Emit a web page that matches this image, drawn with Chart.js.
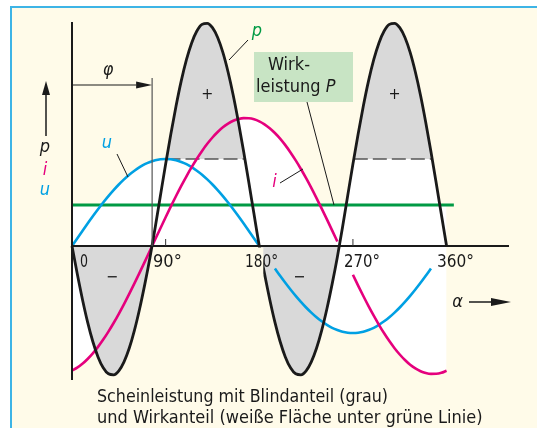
<!DOCTYPE html>
<html lang="de">
<head>
<meta charset="utf-8">
<title>Scheinleistung, Blindanteil und Wirkanteil</title>
<script src="https://cdn.jsdelivr.net/npm/chart.js@4.4.1/dist/chart.umd.min.js"></script>
<style>
  html, body { margin: 0; padding: 0; background: #fff; }
  canvas { display: block; }
</style>
</head>
<body>
<canvas id="powerChart" width="537" height="428"></canvas>
<script>
// Winkel alpha in Grad
const angles = [
    0, 5, 10, 15, 20, 25, 30, 35, 40, 45, 50, 55, 60, 65, 70, 75, 80, 85, 90,
    95, 100, 105, 110, 115, 120, 125, 130, 135, 140, 145, 150, 155, 160, 165, 170, 175, 180,
    185, 190, 195, 200, 205, 210, 215, 220, 225, 230, 235, 240, 245, 250, 255, 260, 265, 270,
    275, 280, 285, 290, 295, 300, 305, 310, 315, 320, 325, 330, 335, 340, 345, 350, 355, 360
];

// Spannung u
const uValues = [
    0, 7.6, 15.1, 22.5, 29.8, 36.8, 43.5, 49.9, 55.9, 61.5, 66.6, 71.3, 75.3, 78.8, 81.8, 84.0, 85.7, 86.7, 87,
    86.7, 85.7, 84.0, 81.8, 78.8, 75.3, 71.3, 66.6, 61.5, 55.9, 49.9, 43.5, 36.8, 29.8, 22.5, 15.1, 7.6, 0,
    -7.6, -15.1, -22.5, -29.8, -36.8, -43.5, -49.9, -55.9, -61.5, -66.6, -71.3, -75.3, -78.8, -81.8, -84.0, -85.7, -86.7, -87,
    -86.7, -85.7, -84.0, -81.8, -78.8, -75.3, -71.3, -66.6, -61.5, -55.9, -49.9, -43.5, -36.8, -29.8, -22.5, -15.1, -7.6, 0
];

// Strom i (nacheilend um phi)
const iValues = [
    -124.7, -121.7, -117.8, -113.0, -107.4, -100.9, -93.6, -85.6, -77.0, -67.8, -58.1, -47.9, -37.4, -26.6, -15.6, -4.5, 6.7, 17.8, 28.8,
    39.6, 50.0, 60.1, 69.7, 78.8, 87.3, 95.1, 102.2, 108.5, 114.0, 118.7, 122.4, 125.2, 127.0, 127.9, 127.8, 126.8, 124.7,
    121.7, 117.8, 113.0, 107.4, 100.9, 93.6, 85.6, 77.0, 67.8, 58.1, 47.9, 37.4, 26.6, 15.6, 4.5, -6.7, -17.8, -28.8,
    -39.6, -50.0, -60.1, -69.7, -78.8, -87.3, -95.1, -102.2, -108.5, -114.0, -118.7, -122.4, -125.2, -127.0, -127.9, -127.8, -126.8, -124.7
];

// Leistung p
const pValues = [
    0, -27.6, -53.2, -76.1, -95.5, -110.9, -121.8, -127.8, -128.8, -124.8, -115.8, -102.2, -84.3, -62.7, -38.1, -11.2, 18.8, 50.5, 81.9,
    112.0, 140.0, 165.1, 186.3, 203.1, 215.0, 221.6, 222.7, 218.3, 208.5, 193.6, 174.0, 150.5, 123.6, 94.2, 63.2, 31.4, 0,
    -27.6, -53.2, -76.1, -95.5, -110.9, -121.8, -127.8, -128.8, -124.8, -115.8, -102.2, -84.3, -62.7, -38.1, -11.2, 18.8, 50.5, 81.9,
    112.0, 140.0, 165.1, 186.3, 203.1, 215.0, 221.6, 222.7, 218.3, 208.5, 193.6, 174.0, 150.5, 123.6, 94.2, 63.2, 31.4, 0
];

const wirkLevel = 41;          // Wirkleistung P (gruene Linie)
const wirkSpan = [0, 367];
const blindLevel = 87;         // gestrichelte Grenze der grauen Flaechen
const phaseShift = 77;         // phi
const tickAngles = [0, 90, 180, 270, 360];
const tickLabels = ['0', '90°', '180°', '270°', '360°'];

// Stellen, an denen die Kurven fuer Beschriftungen unterbrochen sind
const uHidden = [[181, 191], [346, 360]];
const iHidden = [[256, 266]];

const CREAM = '#fffbe9';
const WHITE = '#ffffff';
const GRAY = '#d9d9d9';
const BLUE = '#00a0e3';
const MAGENTA = '#e5007d';
const GREEN = '#009a44';
const INK = '#1a1a1a';
const NONE = 'rgba(0,0,0,0)';
const FONT = '"DejaVu Sans Condensed", "Liberation Sans Narrow", "DejaVu Sans", sans-serif';

function series(values, hidden = []) {
    return angles.map((a, k) => ({
        x: a,
        y: hidden.some(([s, e]) => a >= s && a <= e) ? null : values[k]
    }));
}

function flat(level, span) {
    return span.map(a => ({ x: a, y: level }));
}

// Abschnitte, in denen p ueber dem Niveau liegt (lineare Schnittpunkte)
function spansAbove(values, level) {
    const spans = [];
    let start = null;
    for (let k = 1; k < values.length; k++) {
        const a0 = angles[k - 1], a1 = angles[k], v0 = values[k - 1], v1 = values[k];
        if (v0 < level && v1 >= level) start = a0 + (a1 - a0) * (level - v0) / (v1 - v0);
        if (v0 >= level && v1 < level && start !== null) {
            spans.push([start, a0 + (a1 - a0) * (v0 - level) / (v0 - v1)]);
            start = null;
        }
    }
    return spans;
}

const dashPoints = spansAbove(pValues, blindLevel)
    .flatMap(([s, e]) => [{ x: s, y: blindLevel }, { x: e, y: blindLevel }, { x: e, y: null }]);

const curve = { cubicInterpolationMode: 'monotone', pointRadius: 0, clip: false };
const areaOnly = { ...curve, borderColor: NONE, borderWidth: 0 };

function text(ctx, str, x, y, opts = {}) {
    const { size = 18, color = INK, italic = false, align = 'left', maxWidth, baseline = 'alphabetic' } = opts;
    ctx.font = `${italic ? 'italic ' : ''}${size}px ${FONT}`;
    ctx.fillStyle = color;
    ctx.textAlign = align;
    ctx.textBaseline = baseline;
    if (maxWidth) ctx.fillText(str, x, y, maxWidth);
    else ctx.fillText(str, x, y);
}

function line(ctx, x1, y1, x2, y2, width = 1, color = INK) {
    ctx.strokeStyle = color;
    ctx.lineWidth = width;
    ctx.beginPath();
    ctx.moveTo(x1, y1);
    ctx.lineTo(x2, y2);
    ctx.stroke();
}

function arrow(ctx, x1, y1, x2, y2, headLen, headHalf, width = 1.5) {
    const ang = Math.atan2(y2 - y1, x2 - x1);
    const bx = x2 - headLen * Math.cos(ang), by = y2 - headLen * Math.sin(ang);
    line(ctx, x1, y1, bx, by, width);
    ctx.fillStyle = INK;
    ctx.beginPath();
    ctx.moveTo(x2, y2);
    ctx.lineTo(bx + headHalf * Math.sin(ang), by - headHalf * Math.cos(ang));
    ctx.lineTo(bx - headHalf * Math.sin(ang), by + headHalf * Math.cos(ang));
    ctx.closePath();
    ctx.fill();
}

const sheetPlugin = {
    id: 'sheet',
    beforeDraw(chart) {
        const { ctx, width, height } = chart;
        ctx.save();
        ctx.fillStyle = WHITE;
        ctx.fillRect(0, 0, width, height);
        ctx.fillStyle = CREAM;
        ctx.fillRect(11, 8, width, height);
        ctx.strokeStyle = '#3db4e6';
        ctx.lineWidth = 2;
        ctx.beginPath();
        ctx.moveTo(11, height + 2);
        ctx.lineTo(11, 7);
        ctx.lineTo(width + 2, 7);
        ctx.stroke();
        ctx.restore();
    },
    afterDatasetsDraw(chart) {
        const { ctx, chartArea } = chart;
        const X = v => chart.scales.x.getPixelForValue(v);
        const Y = v => chart.scales.y.getPixelForValue(v);
        const x0 = X(0), y0 = Y(0);
        ctx.save();

        // Freistellung unter "180°"
        ctx.fillStyle = CREAM;
        ctx.fillRect(X(180) - 19, y0 + 1.5, 23, 28);

        // Achsen
        line(ctx, x0, y0, chartArea.right, y0, 2);
        line(ctx, x0, chartArea.top, x0, chartArea.bottom, 2);
        [90, 270].forEach(a => line(ctx, X(a), y0 - 7, X(a), y0, 1, '#333'));

        // Phasenverschiebung phi
        line(ctx, X(phaseShift), 78, X(phaseShift), y0, 1.2, '#555');
        arrow(ctx, x0, 85, X(phaseShift), 85, 16, 3.5, 1.2);
        text(ctx, 'φ', 108, 75, { italic: true, align: 'center' });

        // Groessen an der senkrechten Achse
        arrow(ctx, 46, 136, 46, 81, 14, 4, 1.5);
        text(ctx, 'p', 45, 152, { italic: true, align: 'center' });
        text(ctx, 'i', 45, 175, { italic: true, align: 'center', color: MAGENTA });
        text(ctx, 'u', 45, 195, { italic: true, align: 'center', color: BLUE });

        // Kurvenbeschriftungen
        text(ctx, 'u', 107, 148, { italic: true, align: 'center', color: BLUE });
        line(ctx, 117, 154, 128, 177);
        text(ctx, 'p', 257, 36, { italic: true, align: 'center', color: GREEN });
        line(ctx, 248, 40, 229, 60);
        text(ctx, 'i', 274.5, 187, { italic: true, align: 'center', color: MAGENTA });
        line(ctx, 280, 183, 303, 169);

        // Kasten Wirkleistung
        ctx.fillStyle = '#c8e4c4';
        ctx.fillRect(254, 52, 99, 50);
        line(ctx, 307, 102, 334, Y(wirkLevel));
        text(ctx, 'Wirk-', 268, 70, { maxWidth: 44 });
        text(ctx, 'leistung ', 256, 92);
        const w = ctx.measureText('leistung ').width;
        text(ctx, 'P', 256 + w, 92, { italic: true });

        // Winkelbeschriftung
        const nudges = [[8, 8], [-12.6, 29], [-14.3, 33], [-8.9, 36], [-9.6, 37]];
        tickAngles.forEach((a, k) => {
            text(ctx, tickLabels[k], X(a) + nudges[k][0], y0 + 21, { maxWidth: nudges[k][1] });
        });

        // Vorzeichen der Flaechen
        text(ctx, '+', X(130), Y(151), { size: 16, align: 'center', baseline: 'middle' });
        text(ctx, '+', X(310), Y(151), { size: 16, align: 'center', baseline: 'middle' });
        text(ctx, '−', X(38.5), Y(-32), { size: 16, align: 'center', baseline: 'middle' });
        text(ctx, '−', X(218.5), Y(-32), { size: 16, align: 'center', baseline: 'middle' });

        // alpha-Pfeil
        text(ctx, 'α', 457.5, 307, { italic: true, align: 'center' });
        arrow(ctx, 469, 302, 511, 302, 20, 4, 1.5);

        // Legende unten
        text(ctx, 'Scheinleistung mit Blindanteil (grau)', 97, 402, { maxWidth: 291 });
        text(ctx, 'und Wirkanteil (weiße Fläche unter grüne Linie)', 97, 422.5, { maxWidth: 386 });

        ctx.restore();
    }
};

new Chart(document.getElementById('powerChart'), {
    type: 'line',
    data: {
        datasets: [
            // weisse Flaechen
            { ...areaOnly, data: series(uValues), backgroundColor: WHITE, fill: 'origin', order: 30 },
            { ...areaOnly, data: series(iValues), backgroundColor: WHITE, fill: 'origin', order: 30 },
            { ...areaOnly, data: flat(wirkLevel, [0, 360]), backgroundColor: WHITE, fill: 'origin', tension: 0, order: 30 },
            // p-Flaechen: positiv weiss, negativ grau, ueber der Strichlinie grau
            { ...areaOnly, data: series(pValues), fill: { target: 'origin', above: WHITE, below: GRAY }, order: 25 },
            { ...areaOnly, data: series(pValues), fill: { target: { value: blindLevel }, above: GRAY, below: NONE }, order: 24 },
            // Linien
            { data: dashPoints, borderColor: '#555', borderWidth: 1.5, borderDash: [14, 5], pointRadius: 0, fill: false, order: 5 },
            { data: flat(wirkLevel, wirkSpan), borderColor: GREEN, borderWidth: 3, pointRadius: 0, fill: false, order: 4 },
            { ...curve, data: series(uValues, uHidden), borderColor: BLUE, borderWidth: 2.6, fill: false, order: 3 },
            { ...curve, data: series(iValues, iHidden), borderColor: MAGENTA, borderWidth: 2.6, fill: false, order: 2 },
            { ...curve, data: series(pValues), borderColor: INK, borderWidth: 2.8, fill: false, order: 1 }
        ]
    },
    options: {
        responsive: false,
        animation: false,
        devicePixelRatio: 1,
        events: [],
        layout: { padding: { left: 72, top: 22, right: 28, bottom: 48 } },
        scales: {
            x: { type: 'linear', min: 0, max: 420, display: false },
            y: { type: 'linear', min: -134, max: 224, display: false }
        },
        plugins: {
            legend: { display: false },
            tooltip: { enabled: false }
        }
    },
    plugins: [sheetPlugin]
});
</script>
</body>
</html>
